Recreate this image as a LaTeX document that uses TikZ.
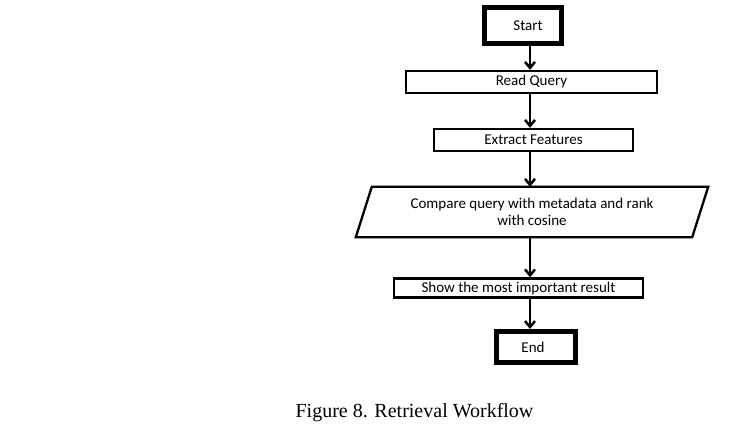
\documentclass[tikz,border=0pt]{standalone}
\usepackage{fontspec}
\setmainfont{Carlito}
\newfontfamily\capfont{Liberation Serif}
\usetikzlibrary{arrows.meta}
\begin{document}
\begin{tikzpicture}[x=1pt,y=-1pt,
  box/.style={draw=black,line width=2.3pt,inner sep=0pt,font=\fontsize{15}{17}\selectfont},
  termbox/.style={draw=black,line width=5pt,inner sep=0pt,font=\fontsize{15}{17}\selectfont},
  flow/.style={line width=2.5pt,-{Straight Barb[length=6pt,width=10pt,line width=2.5pt]}}]
\useasboundingbox (0,0) rectangle (744,441);
\node[termbox,minimum width=77pt,minimum height=36pt] (start) at (523,25.5) {\hspace*{10pt}Start};
\node[box,minimum width=251pt,minimum height=22pt] (rq) at (531.5,82) {Read Query};
\node[box,minimum width=199pt,minimum height=22pt] (ef) at (533.5,140) {Extract Features};
\node[minimum width=336pt,minimum height=50pt,inner sep=0pt,align=center,font=\fontsize{15}{17}\selectfont] (cmp) at (532,212) {Compare query with metadata and rank\\with cosine};
\draw[line width=2.3pt,line join=miter] ([xshift=8pt]cmp.north west) -- ([xshift=8pt]cmp.north east) -- ([xshift=-8pt]cmp.south east) -- ([xshift=-8pt]cmp.south west) -- cycle;
\node[box,minimum width=249pt,minimum height=19pt] (show) at (518.5,288) {Show the most important result};
\node[termbox,minimum width=79pt,minimum height=31pt] (end) at (536,347) {\hspace*{-6pt}End};
\coordinate (ax) at (530,0);
\draw[flow] (start.south -| ax) -- (rq.north -| ax);
\draw[flow] (rq.south -| ax) -- (ef.north -| ax);
\draw[flow] (ef.south -| ax) -- (cmp.north -| ax);
\draw[flow] (cmp.south -| ax) -- (show.north -| ax);
\draw[flow] (show.south -| ax) -- (end.north -| ax);
\node[font=\capfont\fontsize{20}{22}\selectfont,inner sep=0pt] (cap) at (414.5,413) {Figure 8. Retrieval Workflow};
\end{tikzpicture}
\end{document}
